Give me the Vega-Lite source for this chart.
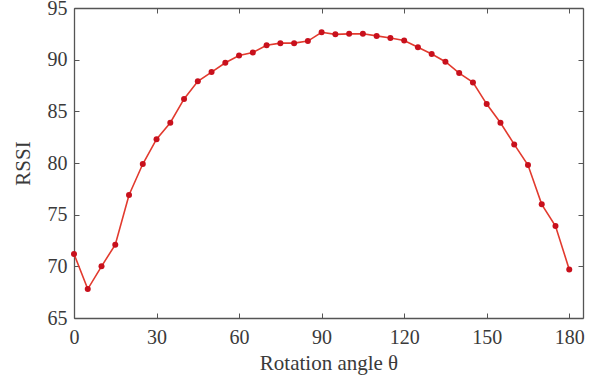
{
  "$schema": "https://vega.github.io/schema/vega-lite/v6.json",
  "width": 509,
  "height": 310,
  "autosize": {"type": "none"},
  "padding": {"left": 74, "top": 8, "right": 6, "bottom": 68},
  "background": "white",
  "config": {
    "view": {"stroke": null},
    "font": "Liberation Serif",
    "axis": {
      "labelFont": "Liberation Serif",
      "titleFont": "Liberation Serif",
      "labelFontSize": 20,
      "titleFontSize": 21,
      "titleFontWeight": "normal",
      "labelColor": "#3a3a3a",
      "titleColor": "#3a3a3a",
      "domainColor": "#555",
      "tickColor": "#555",
      "domainWidth": 1.3,
      "tickWidth": 1,
      "labelFlush": false,
      "labelOverlap": false,
      "grid": false
    }
  },
  "data": {
    "values": [
      {"angle": 0, "rssi": 71.2},
      {"angle": 5, "rssi": 67.8},
      {"angle": 10, "rssi": 70.0},
      {"angle": 15, "rssi": 72.1},
      {"angle": 20, "rssi": 76.9},
      {"angle": 25, "rssi": 79.9},
      {"angle": 30, "rssi": 82.3},
      {"angle": 35, "rssi": 83.9},
      {"angle": 40, "rssi": 86.2},
      {"angle": 45, "rssi": 87.9},
      {"angle": 50, "rssi": 88.8},
      {"angle": 55, "rssi": 89.7},
      {"angle": 60, "rssi": 90.4},
      {"angle": 65, "rssi": 90.7},
      {"angle": 70, "rssi": 91.4},
      {"angle": 75, "rssi": 91.6},
      {"angle": 80, "rssi": 91.6},
      {"angle": 85, "rssi": 91.8},
      {"angle": 90, "rssi": 92.65},
      {"angle": 95, "rssi": 92.45},
      {"angle": 100, "rssi": 92.5},
      {"angle": 105, "rssi": 92.5},
      {"angle": 110, "rssi": 92.3},
      {"angle": 115, "rssi": 92.1},
      {"angle": 120, "rssi": 91.85},
      {"angle": 125, "rssi": 91.2},
      {"angle": 130, "rssi": 90.55},
      {"angle": 135, "rssi": 89.8},
      {"angle": 140, "rssi": 88.7},
      {"angle": 145, "rssi": 87.8},
      {"angle": 150, "rssi": 85.7},
      {"angle": 155, "rssi": 83.9},
      {"angle": 160, "rssi": 81.8},
      {"angle": 165, "rssi": 79.8},
      {"angle": 170, "rssi": 76.0},
      {"angle": 175, "rssi": 73.9},
      {"angle": 180, "rssi": 69.7}
    ]
  },
  "layer": [
    {
      "mark": {"type": "line", "color": "#e23a2e", "strokeWidth": 1.6},
      "encoding": {
        "x": {
          "field": "angle", "type": "quantitative",
          "scale": {"domain": [0, 185], "nice": false, "zero": false},
          "axis": {"orient": "bottom", "values": [0, 30, 60, 90, 120, 150, 180], "tickSize": -5, "labelPadding": 14, "title": "Rotation angle θ", "titlePadding": 5}
        },
        "y": {
          "field": "rssi", "type": "quantitative",
          "scale": {"domain": [65, 95], "nice": false, "zero": false},
          "axis": {"orient": "left", "values": [65, 70, 75, 80, 85, 90, 95], "tickSize": -5, "labelPadding": 12, "title": "RSSI", "titlePadding": 14}
        }
      }
    },
    {
      "mark": {"type": "point", "filled": true, "color": "#c8101c", "size": 36, "opacity": 1},
      "encoding": {
        "x": {
          "field": "angle", "type": "quantitative",
          "scale": {"domain": [0, 185], "nice": false, "zero": false},
          "axis": {"orient": "top", "values": [0, 30, 60, 90, 120, 150, 180], "tickSize": -5, "labels": false, "title": null}
        },
        "y": {
          "field": "rssi", "type": "quantitative",
          "scale": {"domain": [65, 95], "nice": false, "zero": false},
          "axis": {"orient": "right", "values": [65, 70, 75, 80, 85, 90, 95], "tickSize": -5, "labels": false, "title": null}
        }
      }
    }
  ],
  "resolve": {"axis": {"x": "independent", "y": "independent"}}
}
